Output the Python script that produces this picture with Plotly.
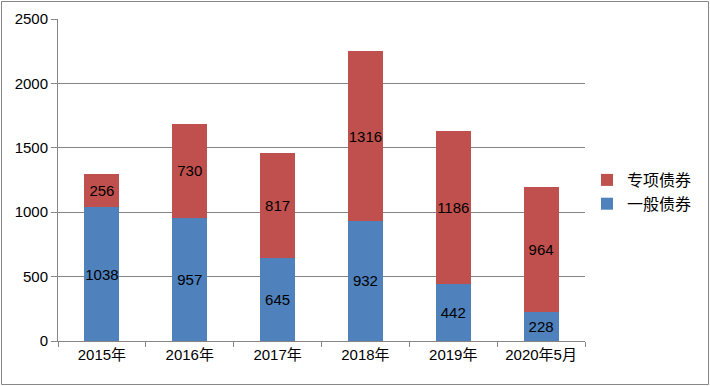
import plotly.graph_objects as go

categories = ["2015年", "2016年", "2017年", "2018年", "2019年", "2020年5月"]
general_bonds = [1038, 957, 645, 932, 442, 228]
special_bonds = [256, 730, 817, 1316, 1186, 964]
y_ticks = [0, 500, 1000, 1500, 2000, 2500]

FONT = "Liberation Sans, Noto Sans CJK SC, sans-serif"

fig = go.Figure()
fig.add_trace(go.Bar(
    x=categories, y=general_bonds, name="一般债券",
    marker=dict(color="#4F81BD", line=dict(width=0)),
    text=general_bonds, textposition="inside", insidetextanchor="middle", textangle=0,
    textfont=dict(color="black", size=15, family=FONT), constraintext="none",
))
fig.add_trace(go.Bar(
    x=categories, y=special_bonds, name="专项债券",
    marker=dict(color="#C0504D", line=dict(width=0)),
    text=special_bonds, textposition="inside", insidetextanchor="middle", textangle=0,
    textfont=dict(color="black", size=15, family=FONT), constraintext="none",
))

W, H = 710, 386
ml, mr, mt, mb = 58, 125, 19, 45
pw, ph = W - ml - mr, H - mt - mb

def px(x):
    return (x - ml) / pw

def py(y):
    return (H - mb - y) / ph

fig.update_layout(
    width=W, height=H,
    barmode="stack", bargap=0.6,
    plot_bgcolor="white", paper_bgcolor="white",
    margin=dict(l=ml, r=mr, t=mt, b=mb, autoexpand=False),
    font=dict(family=FONT, size=14, color="black"),
    showlegend=True,
    legend=dict(
        traceorder="reversed", x=px(587), y=py(163), xanchor="left", yanchor="top",
        font=dict(size=16, family=FONT), itemwidth=30, tracegroupgap=4,
        bgcolor="rgba(0,0,0,0)",
    ),
    xaxis=dict(
        showline=True, linecolor="#868686", linewidth=1, automargin=False,
        ticks="outside", tickson="boundaries", ticklen=5, tickcolor="#868686",
        tickfont=dict(size=15), showgrid=False,
    ),
    yaxis=dict(
        range=[0, 2500], tickvals=y_ticks, automargin=False,
        showline=True, linecolor="#868686", linewidth=1,
        ticks="outside", ticklen=6, tickcolor="#868686",
        showgrid=True, gridcolor="#868686", gridwidth=1,
        tickfont=dict(size=15), zeroline=False,
    ),
    shapes=[dict(
        type="rect", xref="paper", yref="paper",
        x0=px(1.5), x1=px(708.5), y0=py(384.5), y1=py(1.5),
        line=dict(color="#868686", width=1), fillcolor="rgba(0,0,0,0)",
    )],
)

fig.write_html(
    "out.html",
    config={"displayModeBar": False},
    post_script="document.body.style.margin='0';document.body.style.overflow='hidden';",
)
